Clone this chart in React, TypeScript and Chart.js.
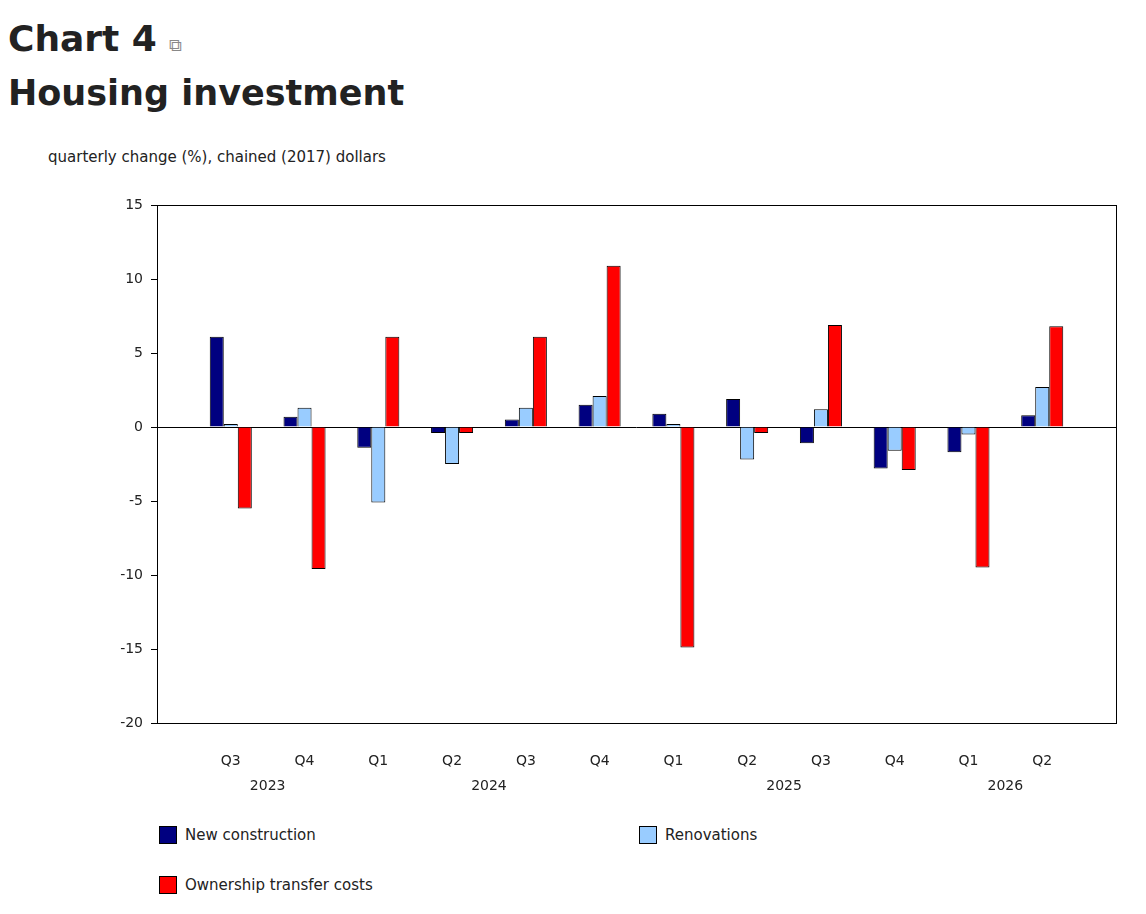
import React, { useEffect, useRef } from "react";
import { Chart, registerables } from "chart.js";
Chart.register(...registerables);

const quarters = ["Q3", "Q4", "Q1", "Q2", "Q3", "Q4", "Q1", "Q2", "Q3", "Q4", "Q1", "Q2"];
const years = [
  { label: "2023", from: 0, to: 1 },
  { label: "2024", from: 2, to: 5 },
  { label: "2025", from: 6, to: 9 },
  { label: "2026", from: 10, to: 11 },
];
const newConstruction = [6.1, 0.7, -1.4, -0.4, 0.5, 1.5, 0.9, 1.9, -1.1, -2.8, -1.7, 0.8];
const renovations = [0.2, 1.3, -5.1, -2.5, 1.3, 2.1, 0.2, -2.2, 1.2, -1.6, -0.5, 2.7];
const ownershipTransfer = [-5.5, -9.6, 6.1, -0.4, 6.1, 10.9, -14.9, -0.4, 6.9, -2.9, -9.5, 6.8];

const FONT = "'DejaVu Sans', Verdana, sans-serif";
const COLORS = ["#000080", "#99ccff", "#ff0000"];
const NAMES = ["New construction", "Renovations", "Ownership transfer costs"];

const extras = {
  id: "extras",
  afterDraw(chart: any) {
    const { ctx, chartArea: a, scales } = chart;
    ctx.save();
    ctx.strokeStyle = "#000";
    ctx.lineWidth = 1;
    ctx.strokeRect(a.left + 0.5, a.top + 0.5, a.right - a.left, a.bottom - a.top);
    ctx.fillStyle = "#222";
    ctx.font = `14px ${FONT}`;
    ctx.textAlign = "center";
    ctx.textBaseline = "middle";
    for (const y of years) {
      const x = (scales.x.getPixelForValue(y.from + 1) + scales.x.getPixelForValue(y.to + 1)) / 2;
      ctx.fillText(y.label, x, a.bottom + 63);
    }
    ctx.restore();
  },
};

export default function App() {
  const ref = useRef<HTMLCanvasElement>(null);
  useEffect(() => {
    const data = [newConstruction, renovations, ownershipTransfer];
    const chart = new Chart(ref.current!, {
      type: "bar",
      data: {
        labels: ["", ...quarters, ""],
        datasets: data.map((d, i) => ({
          label: NAMES[i],
          data: [null, ...d, null],
          backgroundColor: COLORS[i],
          borderColor: "#000",
          borderWidth: 1,
          categoryPercentage: 0.57,
          barPercentage: 1,
        })),
      },
      options: {
        animation: false,
        responsive: false,
        layout: { padding: { top: 27, right: 10 } },
        plugins: { legend: { display: false }, tooltip: { enabled: false } },
        scales: {
          x: {
            offset: false,
            grid: { display: false },
            border: { display: false },
            ticks: { color: "#222", font: { family: FONT, size: 14 }, padding: 22, maxRotation: 0, autoSkip: false },
            afterFit: (s: any) => { s.height = 75; },
          },
          y: {
            min: -20,
            max: 15,
            ticks: { stepSize: 5, color: "#222", font: { family: FONT, size: 14 }, padding: 8 },
            grid: {
              color: (c: any) => (c.tick && c.tick.value === 0 ? "#000" : "transparent"),
              tickColor: "#000",
              tickLength: 6,
              drawTicks: true,
            },
            border: { display: false },
            afterFit: (s: any) => { s.width = 149; },
          },
        },
      },
      plugins: [extras],
    });
    return () => chart.destroy();
  }, []);

  const legendItem = (i: number) => (
    <div style={{ display: "flex", alignItems: "center", gap: 8 }}>
      <span style={{ width: 16, height: 16, background: COLORS[i], border: "1px solid #000", display: "inline-block" }} />
      <span>{NAMES[i]}</span>
    </div>
  );

  return (
    <div style={{ fontFamily: FONT, color: "#222" }}>
      <div style={{ fontWeight: "bold", fontSize: 36, lineHeight: "50px", marginTop: 6 }}>
        Chart 4 <span style={{ fontSize: 18, fontWeight: "normal", color: "#888" }}>⧉</span>
      </div>
      <div style={{ fontWeight: "bold", fontSize: 35, lineHeight: "46px" }}>
        Housing investment
      </div>
      <div style={{ fontSize: 15, marginLeft: 40, marginTop: 32, height: 30 }}>
        quarterly change (%), chained (2017) dollars
      </div>
      <canvas ref={ref} width={1130} height={620} style={{ display: "block" }} />
      <div style={{ fontSize: 15, marginLeft: 151, marginTop: 28, display: "grid", gridTemplateColumns: "480px 400px", rowGap: 32 }}>
        {legendItem(0)}
        {legendItem(1)}
        {legendItem(2)}
      </div>
    </div>
  );
}
